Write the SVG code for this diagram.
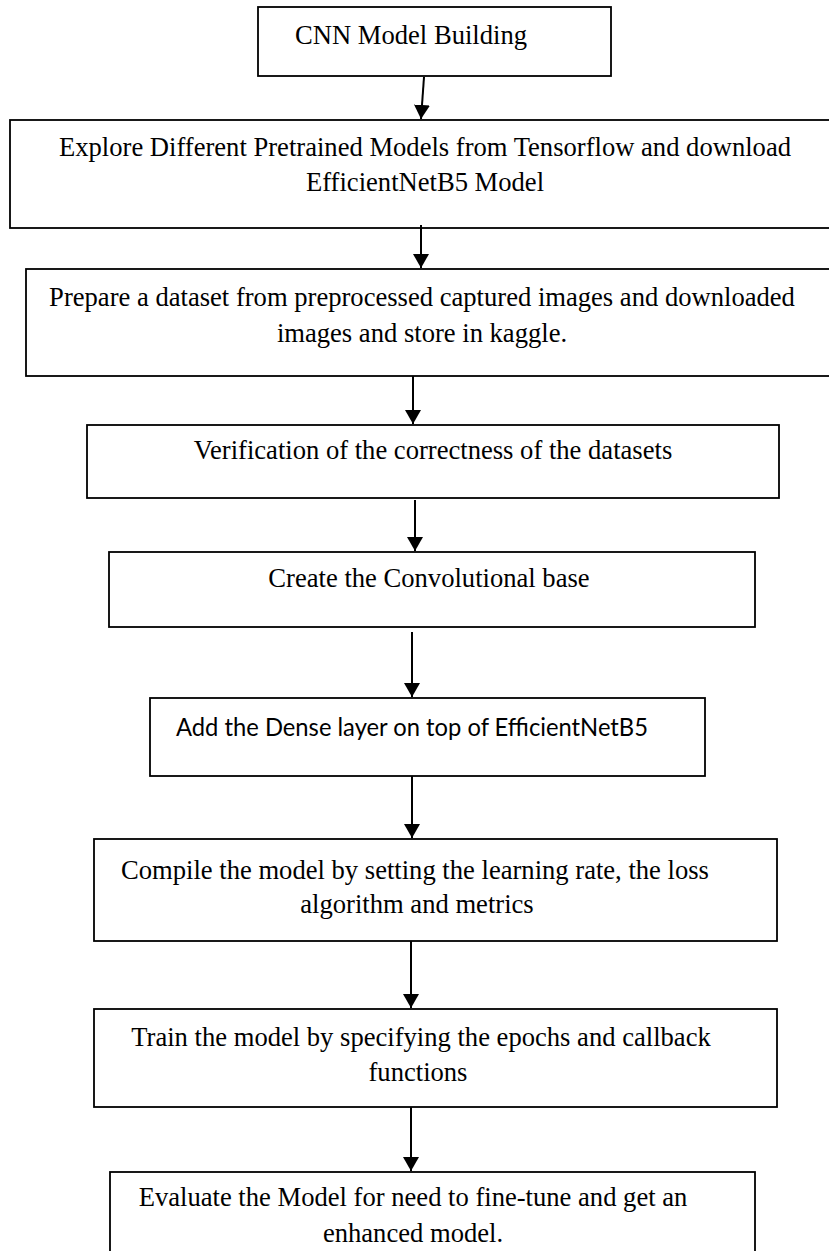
<svg xmlns="http://www.w3.org/2000/svg" width="829" height="1251" viewBox="0 0 829 1251">
<style>
.box{fill:#fff;stroke:#000;stroke-width:1.8}
.t{font-family:"Liberation Serif","Times New Roman",serif;font-size:26.6px;fill:#000;text-anchor:middle}
.c{font-family:Lato,"Open Sans",sans-serif;font-size:25px;fill:#000;text-anchor:middle}
.conn line{stroke:#000;stroke-width:2;marker-end:url(#ah)}
</style>
<defs>
<marker id="ah" viewBox="0 0 14 16" refX="14" refY="8" markerWidth="14" markerHeight="16" markerUnits="userSpaceOnUse" orient="auto"><path d="M0,0 L14,8 L0,16 z" fill="#000"/></marker>
</defs>
<rect width="829" height="1251" fill="#fff"/>
<g id="n1"><rect class="box" x="258" y="7" width="353" height="69"/><text class="t" x="411" y="44">CNN Model Building</text></g>
<g id="n2"><rect class="box" x="10" y="120" width="830" height="108"/><text class="t" x="425" y="156">Explore Different Pretrained Models from Tensorflow and download</text><text class="t" x="425" y="191">EfficientNetB5 Model</text></g>
<g id="n3"><rect class="box" x="26" y="269" width="814" height="107"/><text class="t" x="422" y="306">Prepare a dataset from preprocessed captured images and downloaded</text><text class="t" x="422" y="342">images and store in kaggle.</text></g>
<g id="n4"><rect class="box" x="87" y="425" width="692" height="73"/><text class="t" x="433" y="459">Verification of the correctness of the datasets</text></g>
<g id="n5"><rect class="box" x="109" y="552" width="646" height="75"/><text class="t" x="429" y="587">Create the Convolutional base</text></g>
<g id="n6"><rect class="box" x="150" y="698" width="555" height="78"/><text class="c" x="412" y="736" textLength="472" lengthAdjust="spacingAndGlyphs">Add the Dense layer on top of EfficientNetB5</text></g>
<g id="n7"><rect class="box" x="94" y="839" width="683" height="102"/><text class="t" x="415" y="879">Compile the model by setting the learning rate, the loss</text><text class="t" x="417" y="913">algorithm and metrics</text></g>
<g id="n8"><rect class="box" x="94" y="1009" width="683" height="98"/><text class="t" x="421" y="1046">Train the model by specifying the epochs and callback</text><text class="t" x="418" y="1081">functions</text></g>
<g id="n9"><rect class="box" x="110" y="1172" width="645" height="100"/><text class="t" x="413" y="1206">Evaluate the Model for need to fine-tune and get an</text><text class="t" x="413" y="1242">enhanced model.</text></g>
<g id="connectors" class="conn">
<line x1="424" y1="77" x2="421" y2="119"/>
<line x1="421" y1="225" x2="421" y2="268"/>
<line x1="413" y1="376" x2="413" y2="424"/>
<line x1="415" y1="500" x2="415" y2="551"/>
<line x1="412" y1="632" x2="412" y2="697"/>
<line x1="412" y1="776" x2="412" y2="838"/>
<line x1="411" y1="941" x2="411" y2="1008"/>
<line x1="411" y1="1107" x2="411" y2="1171"/>
</g>
</svg>
